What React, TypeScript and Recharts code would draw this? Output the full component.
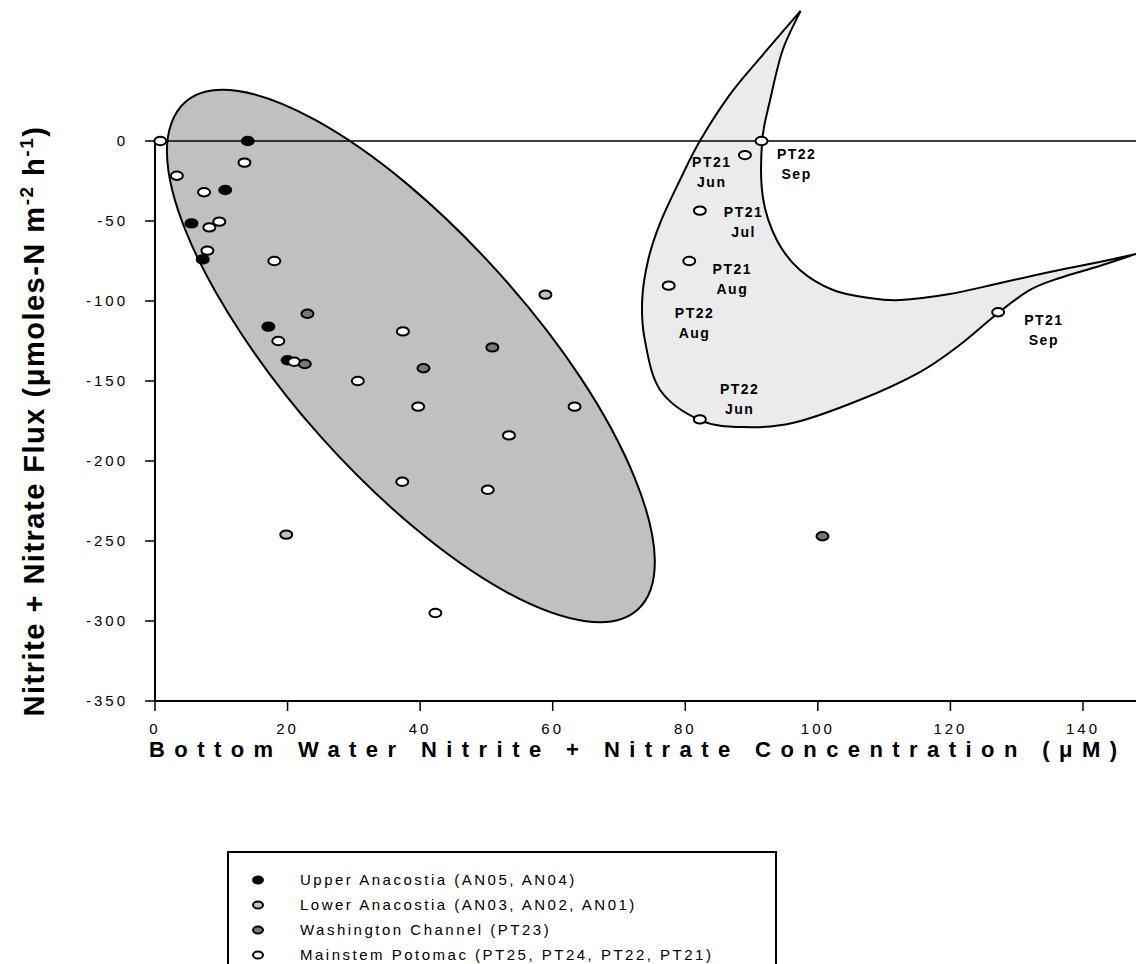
import React from "react";
import { ScatterChart, Scatter, XAxis, YAxis } from "recharts";

// [bottom water NO2+NO3 (µM), NO2+NO3 flux (µmoles-N m-2 h-1)]
const UPPER_ANACOSTIA: [number, number][] = [
  [14.0, 0], [10.6, -30.6], [5.5, -51.5], [7.2, -74], [17.1, -116], [20.0, -137],
];
const LOWER_ANACOSTIA: [number, number][] = [[58.9, -96], [19.8, -246]];
const WASHINGTON_CHANNEL: [number, number][] = [
  [23.0, -108], [22.6, -139.4], [50.9, -129], [40.5, -142], [100.7, -247],
];
const MAINSTEM_POTOMAC: [number, number][] = [
  [0.8, 0], [13.5, -13.5], [3.3, -21.7], [7.4, -32], [9.7, -50.4], [8.2, -54],
  [7.9, -68.5], [18.0, -75], [18.6, -125], [21.0, -138], [30.6, -150], [37.4, -119],
  [39.7, -166], [63.3, -166], [53.4, -184], [37.3, -213], [50.2, -218], [42.3, -295],
  [91.5, 0], [89.0, -8.8], [82.2, -43.5], [80.6, -75], [77.5, -90.4], [82.2, -174], [127.2, -107],
];

// station/month tags next to the PT21 / PT22 points
const TAG_STATION = ["PT21", "PT22", "PT21", "PT21", "PT22", "PT22", "PT21"];
const TAG_MONTH = ["Jun", "Sep", "Jul", "Aug", "Aug", "Jun", "Sep"];
const TAG_X = [84.0, 96.8, 88.8, 87.1, 81.4, 88.2, 134.1];
const TAG_Y = [-19.2, -14.4, -50.4, -86.4, -113.6, -161.4, -117.9];

// outline of the grouping ellipse (data units)
const ELLIPSE_X = [72.8, 75.4, 72.4, 64.3, 52.2, 38.1, 24.1, 12.3, 4.5, 1.8, 4.8, 13.0, 25.0, 39.1, 53.1, 65.0];
const ELLIPSE_Y = [-292.9, -261.5, -210.8, -148.5, -84.0, -27.1, 13.3, 31.4, 24.1, -7.3, -57.9, -120.3, -184.8, -241.6, -282.1, -300.1];

// outline of the crescent around the mainstem summer/fall points; vertices 0 and 20 are the tips
const CRESCENT_X = [
  97.4, 91.3, 86.7, 82.2, 79.2, 76.2, 74.4, 73.5, 73.9, 76.2, 82.2, 88.7, 96.2, 106.3, 115.4, 121.4, 127.2, 132.0, 136.5, 142.5,
  148.0, 142.5, 135.0, 127.5, 119.9, 112.4, 107.8, 102.3, 97.3, 93.8, 91.7, 91.6, 92.8, 94.7,
];
const CRESCENT_Y = [
  81.3, 51.9, 28.8, 0, -24.4, -51.3, -74.4, -99.4, -124.4, -155.6, -174.4, -178.8, -176.3, -161.9, -144.4, -127.5, -107.5, -93.1, -85.6, -78.1,
  -70.6, -75.6, -81.9, -88.8, -95.6, -99.4, -98.1, -93.1, -80.6, -61.9, -35.0, 0, 25.6, 56.9,
];
const CRESCENT_TIPS = [0, 20];

const X_TICKS = [0, 20, 40, 60, 80, 100, 120, 140];
const Y_TICKS = [0, -50, -100, -150, -200, -250, -300, -350];

const LEGEND_LABELS = [
  "Upper Anacostia (AN05, AN04)",
  "Lower Anacostia (AN03, AN02, AN01)",
  "Washington Channel (PT23)",
  "Mainstem Potomac (PT25, PT24, PT22, PT21)",
];

const FONT = "'Liberation Sans', Arial, Helvetica, sans-serif";

const toPoints = (rows: [number, number][]) => rows.map(([x, y]) => ({ x, y }));
const zip = (xs: number[], ys: number[]) => xs.map((x, i) => ({ x, y: ys[i] }));

const series = [
  { name: LEGEND_LABELS[0], data: toPoints(UPPER_ANACOSTIA), fill: "#000000" },
  { name: LEGEND_LABELS[3], data: toPoints(MAINSTEM_POTOMAC), fill: "#ffffff" },
  { name: LEGEND_LABELS[1], data: toPoints(LOWER_ANACOSTIA), fill: "#c0c0c0" },
  { name: LEGEND_LABELS[2], data: toPoints(WASHINGTON_CHANNEL), fill: "#777777" },
];
const legendFills = ["#000000", "#c0c0c0", "#777777", "#f4f4f4"];

const tags = TAG_STATION.map((station, i) => ({ x: TAG_X[i], y: TAG_Y[i], station, month: TAG_MONTH[i] }));

// closed Catmull-Rom path through pixel points; corner indices get sharp joins
function outlinePath(pts: { x: number; y: number }[], corners: number[] = []) {
  const n = pts.length;
  const at = (i: number) => pts[(i + n) % n];
  let d = `M${pts[0].x},${pts[0].y}`;
  for (let i = 0; i < n; i++) {
    const p1 = at(i);
    const p2 = at(i + 1);
    const p0 = corners.includes(i) ? p1 : at(i - 1);
    const p3 = corners.includes((i + 1) % n) ? p2 : at(i + 2);
    const c1x = p1.x + (p2.x - p0.x) / 6;
    const c1y = p1.y + (p2.y - p0.y) / 6;
    const c2x = p2.x - (p3.x - p1.x) / 6;
    const c2y = p2.y - (p3.y - p1.y) / 6;
    d += ` C${c1x},${c1y} ${c2x},${c2y} ${p2.x},${p2.y}`;
  }
  return d + " Z";
}

const NoDot = () => <g />;

const marker = (fill: string) => (props: any) => (
  <ellipse cx={props.cx} cy={props.cy} rx={6} ry={4.2} fill={fill} stroke="#000" strokeWidth={2} />
);

const TagText = (props: any) => {
  const { cx, cy, payload } = props;
  return (
    <text x={cx} y={cy} textAnchor="middle" fontFamily={FONT} fontWeight="bold" fontSize={14} letterSpacing={1.5} fill="#000">
      <tspan x={cx} dy={-5}>{payload.station}</tspan>
      <tspan x={cx} dy={20}>{payload.month}</tspan>
    </text>
  );
};

const XTick = (props: any) => (
  <text x={props.x} y={props.y} dy={15} textAnchor="middle" fontFamily={FONT} fontSize={15} letterSpacing={3} fill="#000">
    {props.payload.value}
  </text>
);

const YTick = (props: any) => (
  <text x={props.x} y={props.y} dy={5} textAnchor="end" fontFamily={FONT} fontSize={15} letterSpacing={3} fill="#000">
    {props.payload.value}
  </text>
);

export default function App() {
  return (
    <div style={{ position: "absolute", left: 0, top: 0, width: 1136, height: 964, overflow: "hidden", background: "#fff" }}>
      <ScatterChart width={1136} height={964} margin={{ top: 5, right: 0, bottom: 233, left: 95 }}>
        <XAxis
          type="number"
          dataKey="x"
          domain={[0, 148]}
          ticks={X_TICKS}
          height={30}
          tickSize={10}
          tickMargin={8}
          axisLine={{ stroke: "#000", strokeWidth: 2 }}
          tickLine={{ stroke: "#000", strokeWidth: 1.5 }}
          tick={<XTick />}
        />
        <YAxis
          type="number"
          dataKey="y"
          domain={[-350, 85]}
          ticks={Y_TICKS}
          width={60}
          tickSize={10}
          tickMargin={17}
          axisLine={false}
          tickLine={{ stroke: "#000", strokeWidth: 1.5 }}
          tick={<YTick />}
        />
        <Scatter
          data={zip(ELLIPSE_X, ELLIPSE_Y)}
          shape={NoDot}
          isAnimationActive={false}
          line={(p: any) => <path d={outlinePath(p.points)} fill="#c0c0c0" stroke="#000" strokeWidth={2} />}
        />
        <Scatter
          data={zip(CRESCENT_X, CRESCENT_Y)}
          shape={NoDot}
          isAnimationActive={false}
          line={(p: any) => <path d={outlinePath(p.points, CRESCENT_TIPS)} fill="#ebebeb" stroke="#000" strokeWidth={2} />}
        />
        {/* zero flux line and the y axis line (which stops at 0) */}
        <Scatter
          data={[{ x: 0, y: 0 }, { x: 148, y: 0 }]}
          shape={NoDot}
          isAnimationActive={false}
          line={{ stroke: "#000", strokeWidth: 1.5 }}
        />
        <Scatter
          data={[{ x: 0, y: -350 }, { x: 0, y: 0 }]}
          shape={NoDot}
          isAnimationActive={false}
          line={{ stroke: "#000", strokeWidth: 2 }}
        />
        {series.map((s) => (
          <Scatter key={s.name} name={s.name} data={s.data} shape={marker(s.fill)} isAnimationActive={false} />
        ))}
        <Scatter data={tags} shape={TagText} isAnimationActive={false} />
      </ScatterChart>

      <svg width={1136} height={964} style={{ position: "absolute", left: 0, top: 0, pointerEvents: "none" }}>
        <text
          x={44}
          y={421}
          transform="rotate(-90 44 421)"
          textAnchor="middle"
          fontFamily={FONT}
          fontWeight="bold"
          fontSize={29}
          letterSpacing={1.5}
          fill="#000"
        >
          Nitrite + Nitrate Flux (μmoles-N m
          <tspan dy={-11} fontSize={19}>-2</tspan>
          <tspan dy={11}> h</tspan>
          <tspan dy={-11} fontSize={19}>-1</tspan>
          <tspan dy={11}>)</tspan>
        </text>
        <text
          x={149}
          y={757}
          textLength={968}
          lengthAdjust="spacing"
          fontFamily={FONT}
          fontWeight="bold"
          fontSize={22}
          fill="#000"
        >
          Bottom Water Nitrite + Nitrate Concentration (μM)
        </text>

        <rect x={228} y={852} width={548} height={140} fill="none" stroke="#000" strokeWidth={2} />
        {LEGEND_LABELS.map((label, i) => (
          <g key={label}>
            <ellipse cx={258} cy={880 + i * 25} rx={5} ry={3.6} fill={legendFills[i]} stroke="#000" strokeWidth={2} />
            <text x={300} y={885 + i * 25} fontFamily={FONT} fontSize={15} letterSpacing={2.5} fill="#000">
              {label}
            </text>
          </g>
        ))}
      </svg>
    </div>
  );
}
